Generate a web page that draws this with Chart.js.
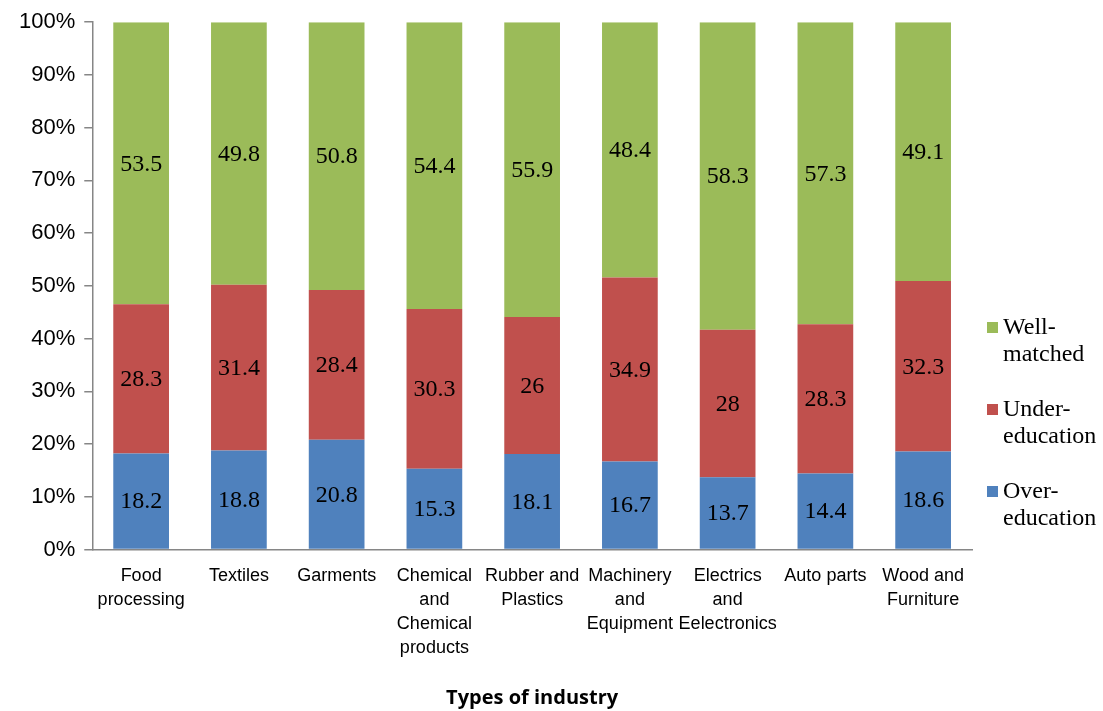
<!DOCTYPE html>
<html>
<head>
<meta charset="utf-8">
<script src="https://cdn.jsdelivr.net/npm/chart.js@4.4.1/dist/chart.umd.min.js"></script>
<style>
  html, body { margin: 0; padding: 0; background: #fff; }
  #wrap { width: 1103px; height: 711px; position: relative; }
</style>
</head>
<body>
<div id="wrap"><canvas id="c"></canvas></div>
<script>
// Education mismatch by industry — 100% stacked bars

const industries = [
  ["Food", "processing"],
  ["Textiles"],
  ["Garments"],
  ["Chemical", "and", "Chemical", "products"],
  ["Rubber and", "Plastics"],
  ["Machinery", "and", "Equipment"],
  ["Electrics", "and", "Eelectronics"],
  ["Auto parts"],
  ["Wood and", "Furniture"]
];
const overEducation  = [18.2, 18.8, 20.8, 15.3, 18.1, 16.7, 13.7, 14.4, 18.6];
const underEducation = [28.3, 31.4, 28.4, 30.3, 26, 34.9, 28, 28.3, 32.3];
const wellMatched    = [53.5, 49.8, 50.8, 54.4, 55.9, 48.4, 58.3, 57.3, 49.1];
const yTicks = [0, 10, 20, 30, 40, 50, 60, 70, 80, 90, 100];

const BLUE = "#4F81BD", RED = "#C0504D", GREEN = "#9BBB59";
const AXIS = "#868686";

// ── Value labels centred in each segment ────────────────────────────────
const segLabels = {
  id: "segLabels",
  afterDatasetsDraw(chart) {
    const ctx = chart.ctx;
    ctx.save();
    ctx.font = "24px 'Liberation Serif', 'Times New Roman', serif";
    ctx.fillStyle = "#000";
    ctx.textAlign = "center";
    ctx.textBaseline = "middle";
    chart.data.datasets.forEach((ds, i) => {
      chart.getDatasetMeta(i).data.forEach((bar, j) => {
        const p = bar.getProps(["x", "y", "base"], true);
        ctx.fillText(String(ds.data[j]), p.x, (p.y + p.base) / 2 + 1);
      });
    });
    ctx.restore();
  }
};

// ── Right-hand legend with wrapped labels ───────────────────────────────
const sideLegend = {
  id: "sideLegend",
  afterDraw(chart) {
    const ctx = chart.ctx;
    const items = [
      { color: GREEN, lines: ["Well-", "matched"], y: 327 },
      { color: RED,   lines: ["Under-", "education"], y: 409 },
      { color: BLUE,  lines: ["Over-", "education"], y: 491 }
    ];
    ctx.save();
    ctx.font = "24px 'Liberation Serif', 'Times New Roman', serif";
    ctx.textBaseline = "middle";
    ctx.textAlign = "left";
    items.forEach(it => {
      ctx.fillStyle = it.color;
      ctx.fillRect(987, it.y - 5, 11, 11);
      ctx.fillStyle = "#000";
      it.lines.forEach((t, k) => ctx.fillText(t, 1003, it.y + 1 + k * 27));
    });
    ctx.restore();
  }
};

new Chart(document.getElementById("c"), {
  type: "bar",
  data: {
    labels: industries,
    datasets: [
      { label: "Over-education",  data: overEducation,  backgroundColor: BLUE },
      { label: "Under-education", data: underEducation, backgroundColor: RED },
      { label: "Well-matched",    data: wellMatched,    backgroundColor: GREEN }
    ]
  },
  options: {
    responsive: true,
    maintainAspectRatio: false,
    animation: false,
    categoryPercentage: 1,
    barPercentage: 0.57,
    layout: { padding: { top: 2, right: 131, left: 10, bottom: 1 } },
    plugins: { legend: { display: false }, tooltip: { enabled: false } },
    scales: {
      x: {
        stacked: true,
        grid: { display: false },
        border: { color: AXIS, width: 1.5 },
        ticks: {
          color: "#000",
          font: { family: "'Liberation Sans Narrow', 'Liberation Sans', Arial, sans-serif", size: 18, lineHeight: 1.34 },
          padding: 6,
          maxRotation: 0,
          autoSkip: false
        },
        title: {
          display: true,
          text: "Types of industry",
          color: "#000",
          font: { family: "'Open Sans', 'Liberation Sans', sans-serif", size: 20, weight: "bold" },
          padding: { top: 20, bottom: 0 }
        }
      },
      y: {
        stacked: true,
        min: 0,
        max: 100,
        afterBuildTicks(axis) { axis.ticks = yTicks.map(v => ({ value: v })); },
        grid: { drawOnChartArea: false, drawTicks: true, tickLength: 8, color: AXIS, lineWidth: 1.5 },
        border: { color: AXIS, width: 1.5 },
        ticks: {
          color: "#000",
          font: { family: "'Liberation Sans', Arial, sans-serif", size: 22 },
          padding: 9,
          callback: v => v + "%"
        }
      }
    }
  },
  plugins: [segLabels, sideLegend]
});
</script>
</body>
</html>
